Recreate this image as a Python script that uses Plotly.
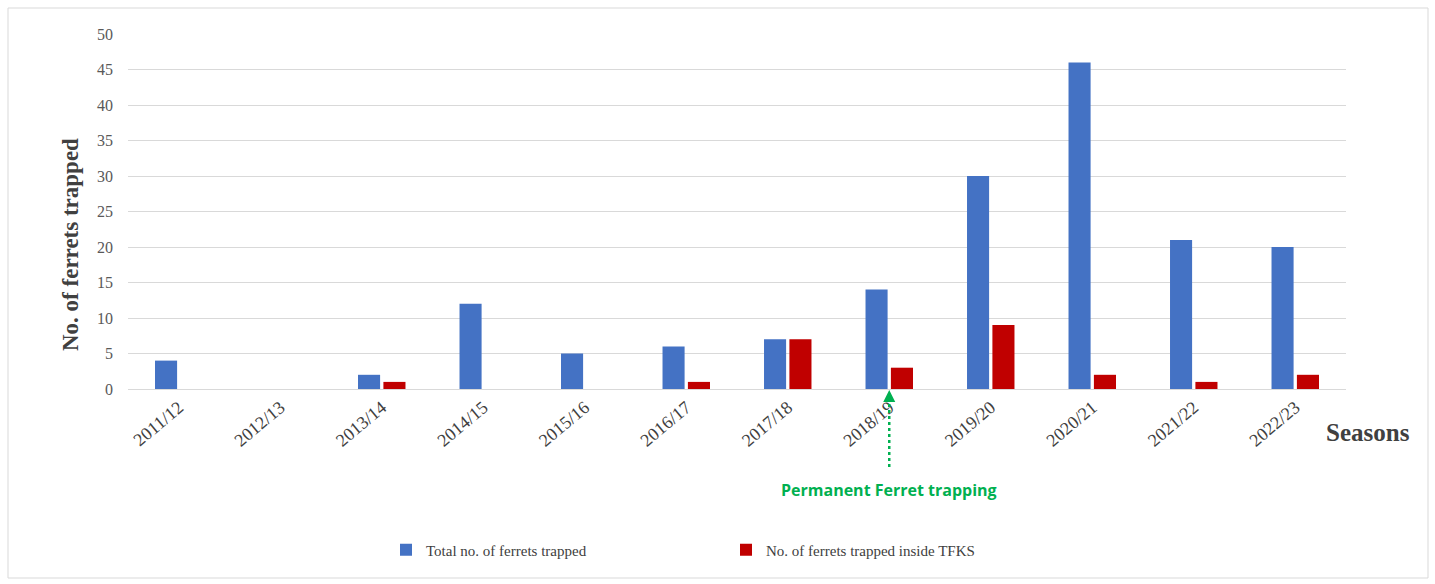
import plotly.graph_objects as go

seasons = ["2011/12", "2012/13", "2013/14", "2014/15", "2015/16", "2016/17",
           "2017/18", "2018/19", "2019/20", "2020/21", "2021/22", "2022/23"]
total_trapped = [4, 0, 2, 12, 5, 6, 7, 14, 30, 46, 21, 20]
inside_tfks = [0, 0, 1, 0, 0, 1, 7, 3, 9, 2, 1, 2]

W, H = 1435, 584
L, R, T, B = 128, 89, 34, 195
pw, ph = W - L - R, H - T - B

def px(x):
    return (x - L) / pw

def py(y):
    return (H - B - y) / ph

serif = "Liberation Serif, Times New Roman, serif"

fig = go.Figure()
fig.add_trace(go.Bar(x=seasons, y=total_trapped, name="Total no. of ferrets trapped",
                     marker=dict(color="#4472C4", line=dict(width=0))))
fig.add_trace(go.Bar(x=seasons, y=inside_tfks, name="No. of ferrets trapped inside TFKS",
                     marker=dict(color="#C00000", line=dict(width=0))))

fig.update_layout(
    width=W, height=H,
    margin=dict(l=L, r=R, t=T, b=B, autoexpand=False),
    paper_bgcolor="white", plot_bgcolor="white",
    barmode="group", bargap=0.5, bargroupgap=0.13,
    font=dict(family=serif, color="#595959", size=15),
    showlegend=True,
    legend=dict(orientation="h", x=px(386), xanchor="left", y=py(550), yanchor="middle",
                font=dict(family=serif, size=15, color="#404040"),
                itemwidth=30, entrywidth=295, itemsizing="constant"),
    xaxis=dict(showgrid=False, showline=True, linecolor="#d9d9d9", linewidth=1,
               tickangle=-40, tickfont=dict(family=serif, size=18, color="#404040"),
               ticks="", fixedrange=True),
    yaxis=dict(range=[0, 50], dtick=5, showgrid=True, gridcolor="#d9d9d9", gridwidth=1,
               zeroline=False, showline=False, ticks="", ticklabelstandoff=14,
               tickfont=dict(family=serif, size=16, color="#595959")),
)

# outer border
fig.add_shape(type="rect", xref="paper", yref="paper",
              x0=px(8), x1=px(1428), y0=py(578), y1=py(8),
              line=dict(color="#d9d9d9", width=1), layer="below")

# Y axis title
fig.add_annotation(xref="paper", yref="paper", x=px(70), y=py(245),
                   xanchor="center", yanchor="middle", textangle=-90,
                   text="<b>No. of ferrets trapped</b>", showarrow=False,
                   font=dict(family=serif, size=23, color="#404040"))

# Seasons label
fig.add_annotation(xref="paper", yref="paper", x=px(1368), y=py(432),
                   xanchor="center", yanchor="middle",
                   text="<b>Seasons</b>", showarrow=False,
                   font=dict(family=serif, size=25, color="#404040"))

# Permanent ferret trapping: dotted shaft + arrowhead
fig.add_shape(type="line", xref="x", yref="paper", x0="2018/19", x1="2018/19",
              y0=py(467), y1=py(398),
              line=dict(color="#00B050", width=2.5, dash="dot"))
fig.add_annotation(x="2018/19", y=0, xref="x", yref="y", ax=0, ay=10,
                   axref="pixel", ayref="pixel", text="", showarrow=True,
                   arrowhead=2, arrowsize=1.2, arrowwidth=2, arrowcolor="#00B050",
                   standoff=1)
fig.add_annotation(x="2018/19", xref="x", yref="paper", y=py(490),
                   xanchor="center", yanchor="middle",
                   text="<b>Permanent Ferret trapping</b>", showarrow=False,
                   font=dict(family="Open Sans, Lato, sans-serif", size=16, color="#00B050"))

fig.write_html("out.html")
